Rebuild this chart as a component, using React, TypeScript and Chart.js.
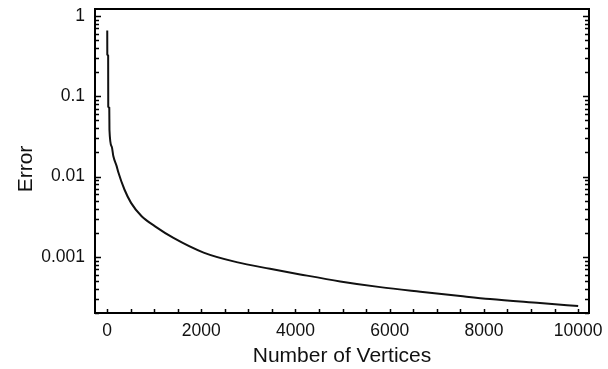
import { useEffect, useRef } from "react";
import { Chart, registerables } from "chart.js";

Chart.register(...registerables);

// Data
const VERTICES = [5, 6, 24, 26, 48, 52, 100, 135, 206, 240, 370, 510, 735, 1020, 1410, 2050, 2750, 3460, 4100, 4950, 5800, 6650, 7500, 8130, 9190, 10000];
const ERRORS = [0.66, 0.33, 0.32, 0.074, 0.072, 0.038, 0.0236, 0.0179, 0.0134, 0.0113, 0.0069, 0.0047, 0.0032, 0.0024, 0.00172, 0.00113, 0.00086, 0.00071, 0.000605, 0.000495, 0.00042, 0.000368, 0.000325, 0.000298, 0.000266, 0.000244];

const X_LABELS = [0, 2000, 4000, 6000, 8000, 10000];
const X_MINOR_STEP = 500;
const Y_LABELS = [0.001, 0.01, 0.1, 1];
const Y_DECADE_BASES = [0.0001, 0.001, 0.01, 0.1];

const X_TITLE = "Number of Vertices";
const Y_TITLE = "Error";

const X_MIN = -255;
const X_MAX = 10230;
const Y_MIN = 0.0002;
const Y_MAX = 1.22;

const FONT = "'Liberation Sans', Arial, sans-serif";
const INK = "#111";

const isYMajor = (v: number) => Y_LABELS.some((l) => Math.abs(v - l) / l < 1e-6);

function buildXTicks() {
  const out: number[] = [];
  for (let v = 0; v <= X_LABELS[X_LABELS.length - 1]; v += X_MINOR_STEP) out.push(v);
  return out;
}

function buildYTicks() {
  const out: number[] = [];
  Y_DECADE_BASES.forEach((b) => {
    for (let m = 1; m <= 9; m++) {
      const v = m === 1 && Y_LABELS.includes(b) ? b : b * m;
      if (v >= Y_MIN && v <= Y_MAX) out.push(v);
    }
  });
  out.push(1);
  return out;
}

const framePlugin = {
  id: "frame",
  afterDraw(chart: any) {
    const { ctx, chartArea: a, scales } = chart;
    const x = scales.x;
    const y = scales.y;
    ctx.save();
    ctx.strokeStyle = "#000";
    ctx.lineWidth = 1.5;
    ctx.beginPath();
    x.ticks.forEach((t: any) => {
      const px = Math.round(x.getPixelForValue(t.value)) + 0.5;
      ctx.moveTo(px, a.bottom);
      ctx.lineTo(px, a.bottom - 4);
    });
    y.ticks.forEach((t: any) => {
      const py = Math.round(y.getPixelForValue(t.value)) + 0.5;
      const len = isYMajor(t.value) ? 6 : 4;
      ctx.moveTo(a.left, py);
      ctx.lineTo(a.left + len, py);
      ctx.moveTo(a.right, py);
      ctx.lineTo(a.right - len, py);
    });
    ctx.stroke();
    ctx.lineWidth = 2;
    ctx.strokeRect(a.left, a.top, a.right - a.left, a.bottom - a.top);

    // y-axis title (placed as in the reference, slightly below the plot centre)
    ctx.fillStyle = INK;
    ctx.font = `21px ${FONT}`;
    ctx.textAlign = "center";
    ctx.textBaseline = "alphabetic";
    ctx.translate(32, 169);
    ctx.rotate(-Math.PI / 2);
    ctx.fillText(Y_TITLE, 0, 0);
    ctx.restore();
  },
};

export default function App() {
  const ref = useRef<HTMLCanvasElement | null>(null);

  useEffect(() => {
    if (!ref.current) return;
    const xTicks = buildXTicks();
    const yTicks = buildYTicks();
    const chart = new Chart(ref.current, {
      type: "line",
      data: {
        datasets: [
          {
            data: VERTICES.map((v, i) => ({ x: v, y: ERRORS[i] })),
            borderColor: "#111",
            borderWidth: 2,
            pointRadius: 0,
            fill: false,
            cubicInterpolationMode: "monotone",
          },
        ],
      },
      options: {
        animation: false,
        responsive: false,
        devicePixelRatio: 1,
        layout: { padding: { top: 9, right: 19, left: 0, bottom: 0 } },
        plugins: { legend: { display: false }, tooltip: { enabled: false } },
        scales: {
          x: {
            type: "linear",
            min: X_MIN,
            max: X_MAX,
            afterBuildTicks: (s: any) => {
              s.ticks = xTicks.map((v) => ({ value: v }));
            },
            afterFit: (s: any) => {
              s.height = 56;
              s.paddingLeft = 0;
              s.paddingRight = 0;
            },
            grid: { display: false, drawTicks: false },
            border: { display: false },
            ticks: {
              autoSkip: false,
              maxRotation: 0,
              padding: 8,
              color: INK,
              font: { size: 17.5, family: FONT },
              callback: (v: any) => (X_LABELS.includes(Number(v)) ? String(v) : ""),
            },
            title: {
              display: true,
              text: X_TITLE,
              color: INK,
              font: { size: 21, family: FONT },
              padding: { top: 0, bottom: 0 },
            },
          },
          y: {
            type: "logarithmic",
            min: Y_MIN,
            max: Y_MAX,
            afterBuildTicks: (s: any) => {
              s.ticks = yTicks.map((v) => ({ value: v }));
            },
            afterFit: (s: any) => {
              s.width = 95;
              s.paddingTop = 0;
              s.paddingBottom = 0;
            },
            grid: { display: false, drawTicks: false },
            border: { display: false },
            ticks: {
              autoSkip: false,
              padding: 10,
              color: INK,
              font: { size: 17.5, family: FONT },
              callback: (v: any) => (isYMajor(Number(v)) ? String(Number(v)) : ""),
            },
          },
        },
      },
      plugins: [framePlugin],
    } as any);
    return () => chart.destroy();
  }, []);

  return (
    <div style={{ position: "absolute", left: 0, top: 0, width: 608, height: 369, background: "#fff" }}>
      <canvas ref={ref} width={608} height={369} />
    </div>
  );
}
